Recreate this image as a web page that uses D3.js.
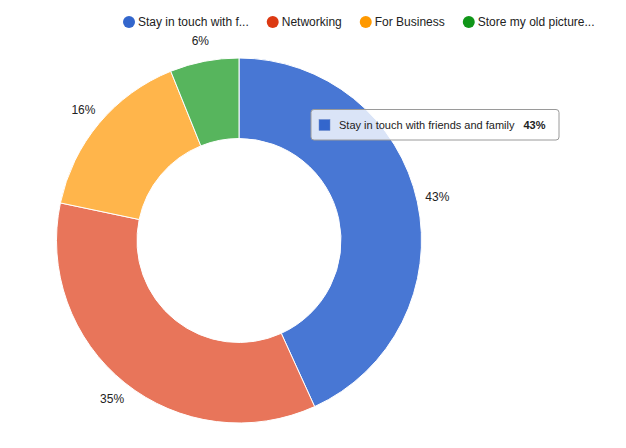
<!DOCTYPE html>
<html>
<head>
<meta charset="utf-8">
<script src="https://cdn.jsdelivr.net/npm/d3@7"></script>
<style>
  body { margin: 0; background: #fff; }
  text { font-family: Arial, "Liberation Sans", sans-serif; }
</style>
</head>
<body>
<div id="chart"></div>
<script>
// 数据区
const categories = ["Stay in touch with friends and family", "Networking", "For Business", "Store my old pictures"];
const legendLabels = ["Stay in touch with f...", "Networking", "For Business", "Store my old picture..."];
const values = [43.2, 35.1, 15.6, 6.1];
const legendColors = ["#3366cc", "#dc3912", "#ff9900", "#109618"];
const sliceColors = ["#4877d4", "#e8755a", "#ffb54b", "#57b55d"];
const hovered = 0; // tooltip shown for first slice

const width = 626, height = 448;
const cx = 239, cy = 240.5;
const outerR = 182.5, innerR = 102;
const labelR = 203;

const svg = d3.select("#chart").append("svg")
    .attr("width", width)
    .attr("height", height);

const total = d3.sum(values);
const fmt = d3.format(".0%");

// 饼图
const pie = d3.pie().sort(null).value(d => d)(values);
const arc = d3.arc().innerRadius(innerR).outerRadius(outerR);

const g = svg.append("g").attr("transform", `translate(${cx},${cy})`);
g.selectAll("path")
    .data(pie)
    .enter()
    .append("path")
    .attr("d", arc)
    .attr("fill", (d, i) => sliceColors[i])
    .attr("stroke", "#fff")
    .attr("stroke-width", 1);

// 百分比标签
const labelArc = d3.arc().innerRadius(labelR).outerRadius(labelR);
g.selectAll(".pct")
    .data(pie)
    .enter()
    .append("text")
    .attr("class", "pct")
    .attr("transform", d => `translate(${labelArc.centroid(d)})`)
    .attr("text-anchor", "middle")
    .attr("dominant-baseline", "central")
    .style("font-size", "12px")
    .style("fill", "#222")
    .text(d => fmt(d.data / total));

// 图例
const legend = svg.append("g");
let lx = 129;
legendLabels.forEach((name, i) => {
    legend.append("circle")
        .attr("cx", lx)
        .attr("cy", 22)
        .attr("r", 6)
        .attr("fill", legendColors[i]);
    const t = legend.append("text")
        .attr("x", lx + 9)
        .attr("y", 22)
        .attr("dominant-baseline", "central")
        .style("font-size", "12px")
        .style("fill", "#222")
        .text(name);
    lx = lx + 9 + t.node().getComputedTextLength() + 24;
});

// 提示框
const tip = svg.append("g").attr("transform", "translate(311,109.5)");
tip.append("rect")
    .attr("width", 248)
    .attr("height", 30.5)
    .attr("rx", 3)
    .attr("fill", "#fff")
    .attr("fill-opacity", 0.8)
    .attr("stroke", "#9a9a9a")
    .attr("stroke-width", 1);
tip.append("rect")
    .attr("x", 8)
    .attr("y", 10)
    .attr("width", 11)
    .attr("height", 11)
    .attr("fill", legendColors[hovered])
    .attr("stroke", "#6b88c7")
    .attr("stroke-width", 0.5);
const tipText = tip.append("text")
    .attr("x", 28)
    .attr("y", 19.5)
    .style("font-size", "11px")
    .style("fill", "#222");
tipText.append("tspan").text(categories[hovered]);
tipText.append("tspan")
    .attr("dx", 9)
    .style("font-weight", "bold")
    .text(fmt(values[hovered] / total));
</script>
</body>
</html>
